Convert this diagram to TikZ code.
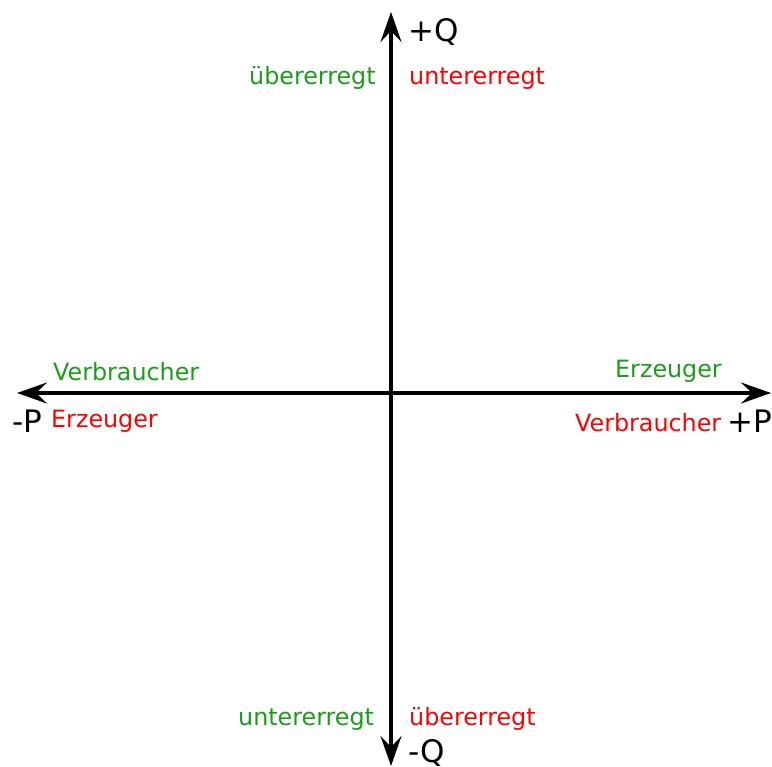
\documentclass[tikz,border=0pt]{standalone}
\usepackage{fontspec}
\setmainfont{DejaVu Sans}
\usetikzlibrary{arrows.meta}
\definecolor{gruen}{HTML}{1A9E1A}
\definecolor{rot}{HTML}{FF0000}
\tikzset{
  tip/.style={Stealth[length=30pt,width=21pt,inset=11pt]},
  axis/.style={line width=3.6pt,{Stealth[length=30pt,width=21pt,inset=11pt]}-{Stealth[length=30pt,width=21pt,inset=11pt]}},
  lbl/.style={anchor=base west,inner sep=0pt,font=\fontsize{23.8}{24}\selectfont},
  axlbl/.style={anchor=base west,inner sep=0pt,font=\fontsize{31}{31}\selectfont},
}
\begin{document}
\begin{tikzpicture}[x=1pt,y=-1pt]
    \useasboundingbox (0,0) rectangle (772,767);
    % axes
    \coordinate (pneg) at (17,393);
    \coordinate (ppos) at (771,393);
    \coordinate (qpos) at (391,12);
    \coordinate (qneg) at (391,766);
    \draw[axis] (pneg) -- (ppos);
    \draw[axis] (qneg) -- (qpos);
    % axis labels
    \node[axlbl] (qp) at (408,42) {+Q};
    \node[axlbl] (qn) at (408,762) {-Q};
    \node[axlbl] (pn) at (12,433) {-P};
    \node[axlbl] (pp) at (727,433) {+P};
    % upper half
    \node[lbl,text=gruen] (ueo) at (249,85) {übererregt};
    \node[lbl,text=rot] (uno) at (409,85) {untererregt};
    % lower half
    \node[lbl,text=gruen] (unu) at (238,725) {untererregt};
    \node[lbl,text=rot] (ueu) at (409,725) {übererregt};
    % left side
    \node[lbl,text=gruen] (vl) at (53,381) {Verbraucher};
    \node[lbl,text=rot] (el) at (51,428) {Erzeuger};
    % right side
    \node[lbl,text=gruen] (er) at (615,378) {Erzeuger};
    \node[lbl,text=rot] (vr) at (575,432) {Verbraucher};
\end{tikzpicture}
\end{document}
